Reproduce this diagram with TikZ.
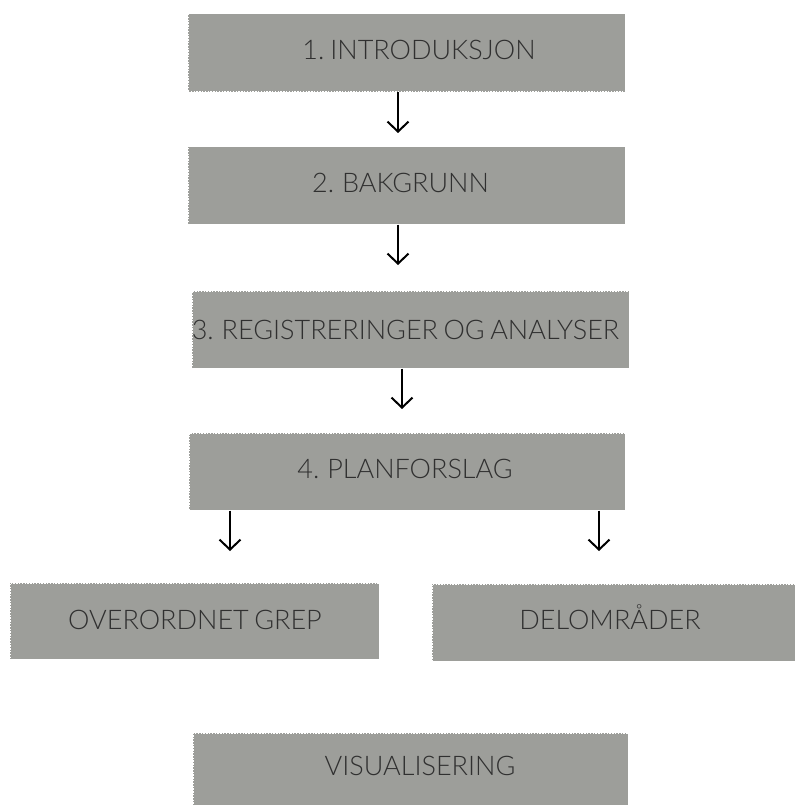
\documentclass[tikz,border=0pt]{standalone}
\usepackage{fontspec}
\setmainfont[WordSpace=0.75]{Lato Light}
\usetikzlibrary{arrows.meta}
\definecolor{boxgrey}{HTML}{9D9E9A}
\definecolor{txtgrey}{HTML}{303030}
\tikzset{
  box/.style={fill=boxgrey, draw=white, line width=1pt, dash pattern=on 1.4pt off 1.4pt, inner sep=0pt},
  lbl/.style={anchor=base, inner sep=0pt, text=txtgrey, font=\fontsize{27}{30}\selectfont},
  arr/.style={line width=2pt, -{Straight Barb[length=10pt,width=21pt,line width=2pt]}}
}
\begin{document}
\begin{tikzpicture}[x=1pt,y=-1pt]
\useasboundingbox (0,0) rectangle (795,805);
\path[clip] (0,0) rectangle (795,805);
% boxes
\node[box, minimum width=437pt, minimum height=78pt] (b1) at (406.5,53) {};
\node[box, minimum width=437pt, minimum height=77pt] (b2) at (406.5,185.5) {};
\node[box, minimum width=437pt, minimum height=77pt] (b3) at (410.5,329.5) {};
\node[box, minimum width=436pt, minimum height=77pt] (b4) at (407,471.5) {};
\node[box, minimum width=369pt, minimum height=76pt] (b5) at (194.5,621) {};
\node[box, minimum width=363pt, minimum height=77pt] (b6) at (613.5,622.5) {};
\node[box, minimum width=435pt, minimum height=77pt] (b7) at (410.5,771.5) {};
% labels
\node[lbl] (t1) at (419,60) {1.\kern-2pt{} INTRODUKSJON};
\node[lbl] (t2) at (400.5,193) {2. BAKGRUNN};
\node[lbl] (t3) at (405.5,339) {3. REGISTRERINGER OG ANALYSER};
\node[lbl] (t4) at (405,478) {4. PLANFORSLAG};
\node[lbl] (t5) at (195,629) {OVERORDNET GREP};
\node[lbl] (t6) at (610,629) {DELOMRÅDER};
\node[lbl] (t7) at (420,775) {VISUALISERING};
% arrow ends
\coordinate (a1) at (398,133);
\coordinate (a2) at (398,265);
\coordinate (a3) at (402,409);
\coordinate (a4) at (230,551);
\coordinate (a5) at (599,551);
\draw[arr] (b1.south -| a1) -- (a1);
\draw[arr] (b2.south -| a2) -- (a2);
\draw[arr] (b3.south -| a3) -- (a3);
\draw[arr] (b4.south -| a4) -- (a4);
\draw[arr] (b4.south -| a5) -- (a5);
\end{tikzpicture}
\end{document}
